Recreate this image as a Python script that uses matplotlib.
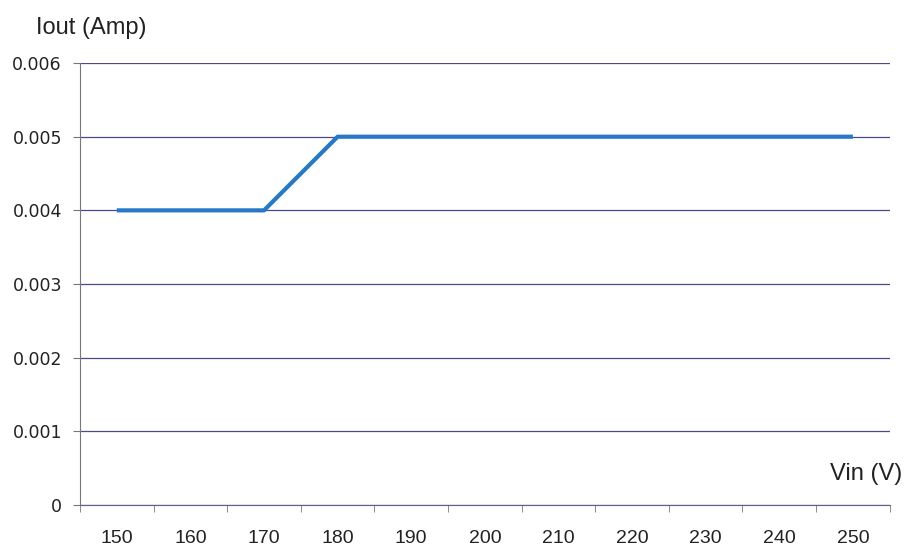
import numpy as np
import matplotlib.pyplot as plt

plt.rcParams['font.family'] = ['Liberation Sans', 'DejaVu Sans']

# Datos
vin = [150, 160, 170, 180, 190, 200, 210, 220, 230, 240, 250]
iout = [0.004, 0.004, 0.004, 0.005, 0.005, 0.005, 0.005, 0.005, 0.005, 0.005, 0.005]
yticks = [0, 0.001, 0.002, 0.003, 0.004, 0.005, 0.006]

fig = plt.figure(figsize=(9.06, 5.53), dpi=100)
ax = fig.add_axes([0.0883, 0.0868, 0.8937, 0.7992])

x = np.arange(len(vin))
ax.plot(x, iout, color='#2878c8', linewidth=3, solid_capstyle='butt')

# eje de categorias: marcas entre categorias
ax.set_xlim(-0.5, len(vin) - 0.5)
ax.set_xticks(np.arange(-0.5, len(vin)), minor=True)
ax.set_xticks(x)
ax.set_xticklabels([str(v) for v in vin], fontsize=14, color='#222222')
ax.tick_params(axis='x', which='major', length=0, pad=18)
ax.tick_params(axis='x', which='minor', length=5, color='#777777', direction='out')

ax.set_ylim(0, 0.006)
ax.set_yticks(yticks)
ax.set_yticklabels(['0' if v == 0 else f'{v:.3f}' for v in yticks],
                   fontsize=12.5, color='#222222', family='DejaVu Sans')
ax.tick_params(axis='y', length=5, color='#777777', pad=8)

ax.grid(True, axis='y', color='#4a4a8a', linewidth=0.9)
ax.set_axisbelow(True)
for s in ['top', 'right']:
    ax.spines[s].set_visible(False)
ax.spines['left'].set_color('#777777')
ax.spines['bottom'].set_color('#6a5a8a')

fig.text(0.04, 0.949, 'Iout (Amp)', fontsize=17, color='#222222', va='center')
fig.text(0.996, 0.143, 'Vin (V)', fontsize=17, color='#222222', va='center', ha='right')

fig.savefig('out.png', dpi=100)
